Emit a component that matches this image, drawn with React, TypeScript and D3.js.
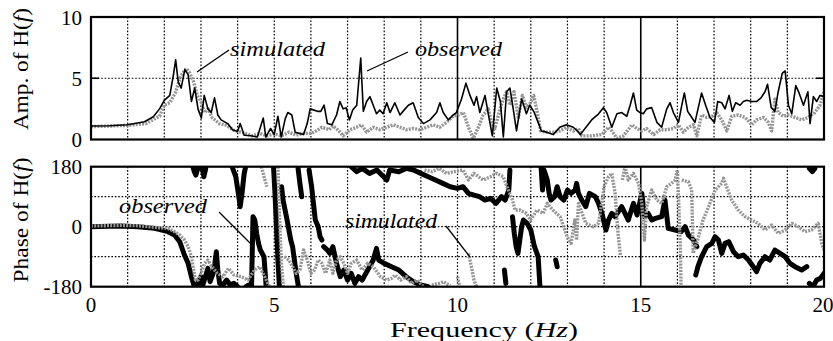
import React from 'react';
import * as d3 from 'd3';

type Pt = [number, number] | null;

const freqTicks = [0, 5, 10, 15, 20];
const ampTicks = [0, 5, 10];
const phaseTicks = [-180, 0, 180];
const freqGrid = [1, 2, 3, 4, 5, 6, 7, 8, 9, 10, 11, 12, 13, 14, 15, 16, 17, 18, 19];
const ampGrid = [5];
const phaseGrid = [-90, 0, 90];

const ampObserved: Pt[] = [
  [0, 1.1], [0.5, 1.12], [1.0, 1.2], [1.46, 1.45], [1.7, 1.86], [1.87, 2.5], [2.0, 3.2], [2.15, 3.6],
  [2.25, 5.3], [2.31, 6.5], [2.38, 4.7], [2.46, 4.2], [2.56, 5.7], [2.65, 5.3], [2.74, 3.1], [2.83, 4.2],
  [2.92, 2.5], [3.01, 1.75], [3.09, 3.6], [3.19, 2.5], [3.28, 2.2], [3.37, 3.4], [3.46, 2.0], [3.55, 1.6],
  [3.73, 1.3], [3.86, 0.8], [4.0, 0.65], [4.07, 1.3], [4.18, 0.35], [4.36, 0.3], [4.54, 0.2], [4.7, 1.75],
  [4.77, 0.2], [4.9, 0.9], [5.0, 0.4], [5.1, 1.9], [5.19, 0.2], [5.3, 1.7], [5.37, 2.2], [5.48, 2.0],
  [5.57, 0.6], [5.69, 0.5], [5.8, 0.4], [5.9, 1.3], [5.98, 2.5], [6.18, 2.3], [6.27, 2.3], [6.36, 2.8],
  [6.45, 1.3], [6.57, 1.2], [6.7, 2.0], [6.79, 3.1], [6.88, 2.5], [6.96, 2.6], [7.05, 1.6], [7.14, 2.4],
  [7.25, 2.8], [7.36, 6.65], [7.43, 2.3], [7.52, 3.1], [7.61, 3.5], [7.7, 2.8], [7.79, 2.1], [7.88, 2.4],
  [7.97, 2.1], [8.07, 3.0], [8.16, 2.2], [8.29, 3.0], [8.43, 2.0], [8.57, 2.5], [8.66, 2.8], [8.79, 3.0],
  [8.93, 1.8], [9.07, 1.3], [9.25, 1.6], [9.43, 2.2], [9.52, 3.0], [9.61, 2.2], [9.75, 1.6], [9.88, 2.0],
  [9.97, 2.2], [10.11, 3.3], [10.23, 4.6], [10.34, 3.6], [10.45, 2.8], [10.52, 3.5], [10.61, 2.2], [10.75, 3.6],
  [10.84, 2.1], [10.95, 0.3], [11.07, 4.2], [11.17, 3.1], [11.25, 0.2], [11.34, 3.9], [11.43, 4.2], [11.52, 2.5],
  [11.61, 0.7], [11.75, 3.3], [11.88, 2.1], [11.97, 2.8], [12.08, 2.3], [12.2, 1.4], [12.29, 0.7], [12.43, 0.6],
  [12.61, 0.4], [12.79, 1.0], [12.97, 1.2], [13.16, 1.0], [13.3, 0.6], [13.35, 0.4], [13.48, 0.9], [13.66, 1.6],
  [13.85, 2.1], [13.98, 2.6], [14.07, 2.2], [14.21, 1.0], [14.35, 2.1], [14.48, 2.2], [14.62, 1.9], [14.71, 2.8],
  [14.8, 3.8], [14.89, 2.4], [14.98, 2.2], [15.07, 2.1], [15.16, 2.5], [15.3, 2.6], [15.44, 1.4], [15.57, 1.0],
  [15.71, 2.5], [15.8, 3.0], [15.89, 2.2], [16.03, 1.4], [16.12, 2.8], [16.19, 3.8], [16.28, 2.3], [16.37, 1.9],
  [16.48, 1.4], [16.57, 2.6], [16.66, 3.8], [16.77, 2.8], [16.89, 1.8], [17.01, 1.4], [17.1, 3.1], [17.21, 3.0],
  [17.3, 2.5], [17.41, 3.6], [17.5, 2.3], [17.59, 3.0], [17.71, 2.8], [17.8, 3.1], [17.89, 3.2], [18.03, 3.1],
  [18.16, 3.1], [18.28, 3.4], [18.39, 3.9], [18.46, 4.5], [18.56, 2.6], [18.66, 2.3], [18.75, 3.9], [18.86, 5.4],
  [18.94, 5.6], [19.03, 2.8], [19.12, 2.1], [19.23, 4.4], [19.32, 3.8], [19.44, 2.8], [19.56, 3.9], [19.62, 1.3],
  [19.71, 3.5], [19.8, 3.1], [19.89, 3.6], [20, 3.5],
];

const ampSimulated: Pt[] = [
  [0, 1.05], [0.5, 1.1], [1.0, 1.15], [1.5, 1.3], [1.87, 1.9], [2.0, 2.8], [2.15, 3.0], [2.3, 3.8],
  [2.45, 5.2], [2.6, 5.8], [2.7, 5.4], [2.8, 4.7], [2.9, 3.6], [3.0, 3.1], [3.1, 2.2], [3.2, 2.5],
  [3.3, 1.8], [3.5, 1.3], [3.7, 1.15], [3.9, 0.75], [4.1, 0.6], [4.4, 0.3], [4.6, 0.5], [4.8, 0.3],
  [5.0, 0.45], [5.2, 0.3], [5.4, 0.6], [5.6, 0.35], [5.8, 0.5], [6.0, 0.5], [6.15, 0.7], [6.3, 1.0],
  [6.5, 0.8], [6.6, 1.1], [6.7, 0.9], [6.88, 0.3], [7.07, 0.8], [7.25, 1.0], [7.38, 1.2], [7.52, 0.6],
  [7.7, 1.0], [7.88, 0.8], [8.07, 1.0], [8.25, 1.2], [8.43, 1.0], [8.61, 0.8], [8.79, 0.9], [8.97, 0.8],
  [9.16, 1.0], [9.34, 1.2], [9.52, 1.0], [9.7, 1.4], [9.88, 1.9], [10.02, 2.0], [10.16, 2.2], [10.3, 1.0],
  [10.43, 0.1], [10.57, 1.0], [10.7, 2.0], [10.84, 2.5], [10.93, 1.4], [11.02, 0.9], [11.16, 2.5], [11.25, 3.3],
  [11.34, 3.9], [11.43, 2.8], [11.54, 3.9], [11.66, 1.8], [11.77, 3.6], [11.88, 2.6], [11.99, 3.0], [12.08, 3.6],
  [12.17, 2.3], [12.27, 0.7], [12.43, 0.6], [12.61, 0.6], [12.79, 0.7], [12.97, 1.0], [13.16, 0.7], [13.3, 0.9],
  [13.39, 0.3], [13.66, 0.3], [13.94, 0.4], [14.12, 1.0], [14.21, 0.7], [14.35, 0.1], [14.53, 0.3], [14.76, 1.2],
  [14.89, 0.9], [15.03, 0.7], [15.16, 0.9], [15.35, 0.4], [15.53, 0.8], [15.71, 0.8], [15.89, 0.9], [16.03, 1.2],
  [16.16, 0.6], [16.3, 1.0], [16.44, 1.2], [16.53, 0.3], [16.66, 2.0], [16.8, 1.8], [16.94, 1.9], [17.07, 2.2],
  [17.21, 1.6], [17.35, 0.7], [17.48, 1.9], [17.66, 2.0], [17.85, 1.8], [18.03, 1.2], [18.16, 1.6], [18.35, 1.8],
  [18.48, 1.4], [18.57, 0.7], [18.66, 3.3], [18.75, 2.2], [18.89, 1.9], [19.03, 2.0], [19.21, 1.8], [19.39, 1.6],
  [19.57, 1.8], [19.75, 2.2], [19.89, 2.8], [20, 3.9],
];

const phaseObserved: Pt[] = [
  [0, 0], [0.5, 1], [0.83, 2], [1.28, 0], [1.74, -5], [2.1, -15], [2.28, -25], [2.42, -45], [2.55, -85],
  [2.65, -110], [2.74, -150], [2.82, -180], null,
  [2.78, 180], [2.82, 165], [2.86, 155], [2.9, 170], [2.95, 180], null,
  [2.9, -180], [2.95, -160], [3.0, -150], [3.05, -175], [3.12, -150], [3.19, -125], [3.25, -165], [3.33, -140],
  [3.38, -110], [3.42, -75], [3.46, -130], [3.51, -170], [3.6, -175], [3.7, -160], [3.8, -175], [3.9, -170],
  [4.0, -180], null,
  [3.03, 180], [3.08, 150], [3.13, 175], null,
  [3.85, 180], [3.95, 150], [4.02, 100], [4.07, 60], [4.12, 100], [4.18, 160], [4.22, 180], null,
  [4.23, -180], [4.3, -175], [4.38, -180], [4.42, 30], [4.47, 20], [4.52, -20], [4.57, -50], [4.62, -70],
  [4.72, -90], [4.78, -180], null,
  [4.98, 180], [5.02, 100], [5.06, 0], [5.1, -100], [5.14, -180], null,
  [5.2, 120], [5.24, 80], [5.35, 20], [5.45, -40], [5.5, -60], [5.6, -140], [5.66, -180], null,
  [5.65, 175], [5.7, 130], [5.75, 90], null,
  [5.95, 170], [6.02, 120], [6.08, 60], [6.12, 20], [6.2, 0], [6.25, -30], [6.3, -40], null,
  [6.35, -60], [6.45, -70], [6.52, -80], [6.6, -60], [6.7, -110], [6.8, -150], [6.9, -130], [7.0, -160],
  [7.1, -140], [7.2, -170], [7.3, -150], [7.4, -160], [7.5, -140], [7.6, -120], [7.7, -100], [7.79, -65],
  [7.85, -100], [8.0, -110], [8.2, -120], [8.4, -130], [8.6, -150], [8.8, -165], [9.0, -175], [9.2, -180], null,
  [7.1, 180], [7.25, 165], [7.4, 175], [7.6, 160], [7.8, 170], [8.07, 140], [8.15, 170], [8.4, 165],
  [8.6, 175], [8.8, 170], [9.0, 160], [9.2, 150], [9.4, 140], [9.6, 130], [9.8, 120], [10.0, 115],
  [10.15, 120], [10.3, 100], [10.45, 95], [10.6, 90], [10.75, 80], [10.9, 85], [11.05, 70], [11.2, 90],
  [11.3, 80], [11.4, 110], [11.43, 170], null,
  [11.28, -130], [11.32, -170], null,
  [11.5, 30], [11.55, -20], [11.6, -60], [11.65, -80], [11.7, -40], [11.75, 0], [11.8, 20], [11.9, 10],
  [12.0, -10], [12.1, -60], [12.2, -90], [12.25, -180], null,
  [12.28, 180], [12.32, 110], [12.36, 170], [12.45, 140], [12.5, 100], [12.55, 80], [12.65, 90], [12.72, 120],
  [12.8, 90], [12.9, 80], [13.0, 110], [13.1, 100], [13.21, 110], [13.25, 130], [13.3, 100], [13.39, 80],
  [13.5, 60], [13.6, 100], [13.76, 90], [13.85, 70], [13.94, 40], [14.05, -10], [14.12, 20], [14.21, 40],
  [14.3, 30], [14.39, 45], [14.48, 60], [14.57, 40], [14.66, 20], [14.8, 70], [14.9, 35], [15.03, 100],
  [15.1, 30], [15.2, 40], [15.3, 20], [15.4, 25], [15.57, 30], [15.66, 80], [15.75, -5], [15.94, -10],
  [16.1, -15], [16.21, 0], [16.3, -25], [16.44, -40], [16.53, -60], null,
  [12.68, -100], [12.72, -120], null,
  [16.5, -145], [16.56, -120], [16.66, -90], [16.8, -60], [16.94, -50], [17.03, -30], [17.12, -40], [17.21, -80],
  [17.3, -50], [17.4, -45], [17.53, -75], [17.66, -90], [17.8, -85], [17.94, -100], [18.07, -120], [18.16, -135],
  [18.25, -110], [18.39, -90], [18.52, -100], [18.66, -70], [18.8, -80], [18.94, -90], [19.07, -110], [19.21, -120],
  [19.39, -130], [19.53, -120], null,
  [19.6, -170], [19.7, -180], [19.8, -160], [19.9, -155], [20.0, -140], null,
  [19.6, 175], [19.68, 165], [19.75, 175],
];

const phaseSimulated: Pt[] = [
  [0, 2], [0.8, 4], [1.3, 3], [1.74, -2], [2.1, -5], [2.28, -15], [2.42, -25], [2.55, -40], [2.65, -60],
  [2.74, -90], [2.8, -130], [2.85, -160], [2.92, -160], [3.0, -140], [3.1, -110], [3.19, -100], [3.3, -120],
  [3.45, -140], [3.6, -150], [3.75, -125], [3.9, -145], [4.1, -150], [4.28, -160], [4.46, -130], [4.6, -120],
  [4.74, -150], [4.87, -180], null,
  [4.65, 180], [4.72, 150], [4.8, 120], null,
  [5.1, 180], [5.13, 80], [5.16, -20], [5.2, -120], [5.25, -180], null,
  [5.28, -90], [5.4, -100], [5.5, -120], [5.6, -140], [5.7, -130], [5.8, -70], [5.9, -100], [6.0, -140],
  [6.1, -130], [6.2, -100], [6.3, -110], [6.4, -140], [6.52, -100], [6.6, -140], [6.7, -100], [6.8, -90],
  [6.9, -110], [7.0, -140], [7.1, -110], [7.25, -100], [7.4, -130], [7.55, -110], [7.7, -120], [7.9, -150],
  [8.07, -160], [8.2, -155], [8.3, -145], [8.45, -160], [8.6, -150], [8.75, -170], [8.9, -160], [9.07, -180], null,
  [9.3, -175], [9.5, -170], [9.62, -165], [9.8, -178], null,
  [10.0, -150], [10.06, -180], null,
  [10.3, -80], [10.38, -120], [10.45, -160], [10.52, -180], null,
  [9.1, 170], [9.3, 165], [9.5, 175], [9.7, 160], [9.9, 165], [10.15, 170], [10.3, 140], [10.45, 160],
  [10.7, 140], [10.9, 150], [11.07, 160], [11.25, 150], [11.35, 120], [11.5, 80], [11.57, 50], [11.7, 50],
  [11.88, 40], [11.99, 20], [12.17, 50], [12.34, 40], [12.45, 70], [12.6, 50], [12.8, 30], [12.9, 0],
  [12.99, -30], [13.1, -50], [13.2, 20], [13.25, -40], [13.3, 70], [13.4, 40], [13.5, 10], [13.7, 0],
  [13.85, 10], [14.0, 120], [14.12, 150], [14.21, 160], [14.3, 100], [14.38, -20], [14.45, -90], null,
  [14.5, 140], [14.57, 180], [14.66, 140], [14.8, 160], [14.94, 130], [15.03, 70], [15.1, -40], [15.16, 60],
  [15.3, 110], [15.44, 80], [15.57, 70], [15.71, 120], [15.84, 130], [15.94, 140], [16.0, 170], [16.04, 60],
  [16.08, -60], [16.1, -180], null,
  [16.12, 140], [16.3, 135], [16.39, 110], [16.43, -80], [16.55, -40], [16.7, 20], [16.85, 60], [17.03, 110],
  [17.21, 130], [17.26, 145], [17.48, 80], [17.66, 50], [17.85, 30], [18.03, 20], [18.2, 10], [18.39, -10],
  [18.57, 5], [18.75, -20], [18.94, -10], [19.12, 10], [19.3, 0], [19.48, -15], [19.66, -10], [19.84, 10],
  [19.94, -50], [20.0, -70],
];

const X0 = 91, X1 = 824;
const A_TOP = 17, A_BOT = 139.5;
const P_TOP = 166.7, P_BOT = 286.7;
const SERIF = '"Liberation Serif", "Times New Roman", Times, serif';

export default function App() {
  const x = d3.scaleLinear().domain([0, 20]).range([X0, X1]);
  const yA = d3.scaleLinear().domain([0, 10]).range([A_BOT, A_TOP]);
  const yP = d3.scaleLinear().domain([-180, 180]).range([P_BOT, P_TOP]);

  const lineA = d3.line<Pt>().defined((d) => d !== null).x((d) => x(d![0])).y((d) => yA(d![1]));
  const lineP = d3.line<Pt>().defined((d) => d !== null).x((d) => x(d![0])).y((d) => yP(d![1]));

  const gridStyle = { stroke: '#000', strokeWidth: 1.2, strokeDasharray: '1.6 1.8' };
  const simStyle = { fill: 'none', stroke: '#949494', strokeWidth: 3.4, strokeDasharray: '2 1.2', strokeLinejoin: 'round' as const };
  const txt = { fontFamily: SERIF };

  return (
    <svg width={833} height={341} style={{ position: 'absolute', left: 0, top: 0, background: '#fff', fontFamily: SERIF }}>
      <defs>
        <clipPath id="clipA"><rect x={X0} y={A_TOP} width={X1 - X0} height={A_BOT - A_TOP} /></clipPath>
        <clipPath id="clipP"><rect x={X0} y={P_TOP} width={X1 - X0} height={P_BOT - P_TOP} /></clipPath>
      </defs>

      {freqGrid.map((f) => (
        <line key={'ga' + f} x1={x(f)} x2={x(f)} y1={A_TOP} y2={A_BOT}
          {...(f === 10 || f === 15 ? { stroke: '#000', strokeWidth: 1.6 } : gridStyle)} />
      ))}
      {ampGrid.map((v) => (
        <line key={'gah' + v} x1={X0} x2={X1} y1={yA(v)} y2={yA(v)} {...gridStyle} />
      ))}
      {freqGrid.map((f) => (
        <line key={'gp' + f} x1={x(f)} x2={x(f)} y1={P_TOP} y2={P_BOT}
          {...(f === 15 ? { stroke: '#000', strokeWidth: 1.6 } : gridStyle)} />
      ))}
      {phaseGrid.map((v) => (
        <line key={'gph' + v} x1={X0} x2={X1} y1={yP(v)} y2={yP(v)} {...gridStyle} />
      ))}

      <g clipPath="url(#clipA)">
        <path d={lineA(ampSimulated) || ''} {...simStyle} />
        <path d={lineA(ampObserved) || ''} fill="none" stroke="#000" strokeWidth={1.6} strokeLinejoin="round" />
      </g>

      <g clipPath="url(#clipP)">
        <path d={lineP(phaseObserved) || ''} fill="none" stroke="#000" strokeWidth={5} strokeLinejoin="round" strokeLinecap="round" />
        <path d={lineP(phaseSimulated) || ''} {...simStyle} />
      </g>

      <rect x={X0} y={A_TOP} width={X1 - X0} height={A_BOT - A_TOP} fill="none" stroke="#000" strokeWidth={2.2} />
      <rect x={X0} y={P_TOP} width={X1 - X0} height={P_BOT - P_TOP} fill="none" stroke="#000" strokeWidth={2.2} />
      <line x1={X0} x2={X0 + 8} y1={yA(5)} y2={yA(5)} stroke="#000" strokeWidth={1.6} />
      <line x1={X1 - 8} x2={X1} y1={yA(5)} y2={yA(5)} stroke="#000" strokeWidth={1.6} />

      {ampTicks.map((v) => (
        <text key={'ta' + v} style={txt} x={82} y={yA(v)} dy="0.36em" textAnchor="end" fontSize={21}>{v}</text>
      ))}
      {phaseTicks.map((v) => (
        <text key={'tp' + v} style={txt} x={82} y={yP(v)} dy="0.36em" textAnchor="end" fontSize={21}>{v}</text>
      ))}
      {freqTicks.map((f) => (
        <text key={'tx' + f} style={txt} x={f === 20 ? x(f) - 1 : x(f)} y={312} textAnchor="middle" fontSize={21}>{f}</text>
      ))}

      <text style={txt} x={484} y={337} textAnchor="middle" fontSize={20} textLength={188} lengthAdjust="spacingAndGlyphs">
        Frequency (<tspan fontStyle="italic">Hz</tspan>)
      </text>
      <text style={txt} transform="translate(28,69) rotate(-90)" textAnchor="middle" fontSize={22} textLength={122} lengthAdjust="spacingAndGlyphs">
        Amp. of H(<tspan fontStyle="italic">f</tspan>)
      </text>
      <text style={txt} transform="translate(28,220) rotate(-90)" textAnchor="middle" fontSize={22} textLength={125} lengthAdjust="spacingAndGlyphs">
        Phase of H(<tspan fontStyle="italic">f</tspan>)
      </text>

      <text style={txt} x={230} y={56} fontSize={22} fontStyle="italic" textLength={95} lengthAdjust="spacingAndGlyphs">simulated</text>
      <line x1={229} y1={50} x2={197} y2={72} stroke="#000" strokeWidth={1.3} />
      <text style={txt} x={415} y={56} fontSize={22} fontStyle="italic" textLength={87} lengthAdjust="spacingAndGlyphs">observed</text>
      <line x1={408} y1={52} x2={367} y2={71} stroke="#000" strokeWidth={1.3} />
      <text style={txt} x={119} y={213} fontSize={22} fontStyle="italic" textLength={88} lengthAdjust="spacingAndGlyphs">observed</text>
      <line x1={219} y1={212} x2={252} y2={245} stroke="#000" strokeWidth={1.3} />
      <text style={txt} x={345} y={228} fontSize={22} fontStyle="italic" textLength={92} lengthAdjust="spacingAndGlyphs">simulated</text>
      <line x1={446} y1={226} x2={470} y2={257} stroke="#000" strokeWidth={1.3} />
    </svg>
  );
}
